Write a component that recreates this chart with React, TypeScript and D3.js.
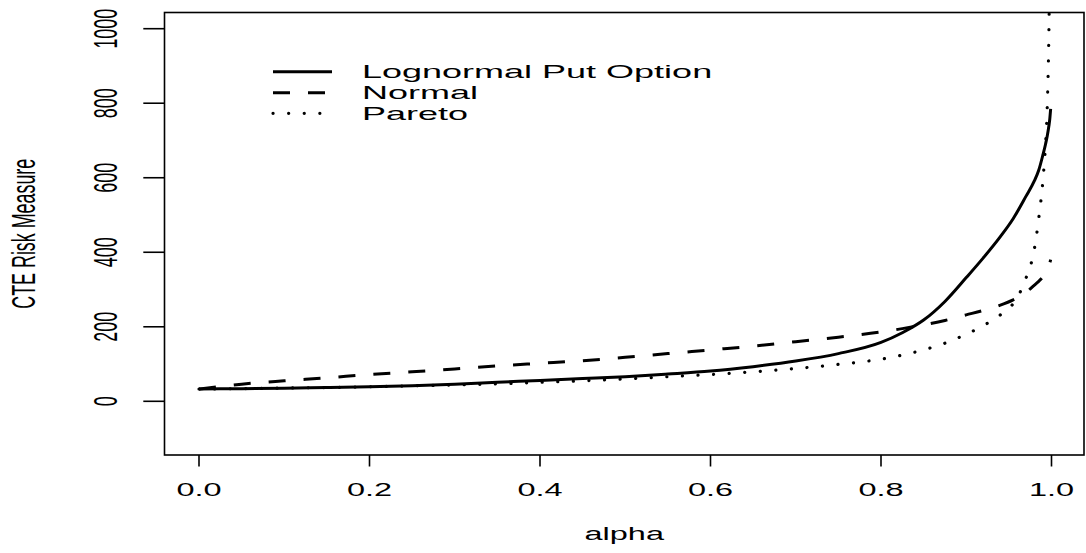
import React from "react";
import * as d3 from "d3";

// values
const alpha = [
  0, 0.05, 0.1, 0.15, 0.2, 0.25, 0.3, 0.35, 0.4, 0.45, 0.5, 0.55, 0.6, 0.65,
  0.7, 0.75, 0.8, 0.825, 0.85, 0.875, 0.9, 0.92, 0.94, 0.955, 0.97, 0.98,
  0.985, 0.99, 0.993, 0.995, 0.997, 0.998, 0.999,
];
const lognormalPut = [
  33, 34, 35, 37, 39, 42, 46, 51, 56, 61, 66, 73, 81, 93, 108, 128, 158, 184,
  218, 268, 332, 385, 442, 490, 550, 592, 620, 662, 690, 712, 740, 758, 785,
];
const normal = [
  33, 46, 55, 63, 72, 79, 87, 95, 102, 109, 118, 128, 138, 148, 160, 172, 186,
  195, 205, 217, 232, 244, 258, 272, 292, 312, 322, 334, 345, 355, 365, 372,
  380,
];
const pareto = [
  33, 34, 35.5, 37, 39, 41.5, 44, 47, 51, 55, 60, 66, 72, 79, 88, 99, 113, 124,
  138, 156, 180, 203, 232, 262, 330, 410, 490, 595, 690, 790, 1000, 1200, 1400,
];

const xTicks = [0, 0.2, 0.4, 0.6, 0.8, 1.0];
const yTicks = [0, 200, 400, 600, 800, 1000];
const legendLabels = ["Lognormal Put Option", "Normal", "Pareto"];
const seriesList = [lognormalPut, normal, pareto];

const W = 1086;
const H = 553;
const box = { left: 164.5, right: 1084, top: 12.5, bottom: 455 };
const SY = 0.55; // the figure is squeezed vertically
const FONT = "'Liberation Sans', Arial, Helvetica, sans-serif";

const dashes = [null, "17 18", "0.1 15.5"];
const caps = ["butt", "butt", "round"];

export default function App() {
  const x = d3.scaleLinear().domain([0, 1]).range([199, 1051.5]);
  const y = d3.scaleLinear().domain([0, 1000]).range([401.3, 28.7]);

  const line = d3
    .line<number>()
    .x((_, i) => x(alpha[i]))
    .y((d) => y(d))
    .curve(d3.curveMonotoneX);

  const legendRows = [71.7, 92.7, 113.3];

  return (
    <div style={{ position: "absolute", left: 0, top: 0 }}>
      <svg width={W} height={H} style={{ display: "block", background: "#fff" }}>
        <defs>
          <clipPath id="plotClip">
            <rect
              x={box.left}
              y={box.top}
              width={box.right - box.left}
              height={box.bottom - box.top}
            />
          </clipPath>
        </defs>

        {/* curves */}
        <g clipPath="url(#plotClip)">
          {seriesList.map((s, i) => (
            <path
              key={i}
              d={line(s) || ""}
              fill="none"
              stroke="#000"
              strokeWidth={i === 2 ? 3.2 : 3}
              strokeDasharray={dashes[i] || undefined}
              strokeLinecap={caps[i] as any}
            />
          ))}
        </g>

        {/* plot box */}
        <rect
          x={box.left}
          y={box.top}
          width={box.right - box.left}
          height={box.bottom - box.top}
          fill="none"
          stroke="#000"
          strokeWidth={1.6}
        />

        {/* x axis */}
        {xTicks.map((t) => (
          <g key={t}>
            <line x1={x(t)} x2={x(t)} y1={box.bottom} y2={466.5} stroke="#000" strokeWidth={1.6} />
            <text
              transform={`translate(${x(t)},496) scale(1,${SY})`}
              textAnchor="middle"
              fontFamily={FONT}
              fontSize={32.5}
            >
              {t.toFixed(1)}
            </text>
          </g>
        ))}
        <text
          transform={`translate(${(box.left + box.right) / 2},540) scale(1,${SY})`}
          textAnchor="middle"
          fontFamily={FONT}
          fontSize={32.5}
        >
          alpha
        </text>

        {/* y axis */}
        {yTicks.map((t) => (
          <g key={t}>
            <line x1={143.3} x2={box.left} y1={y(t)} y2={y(t)} stroke="#000" strokeWidth={1.6} />
            <text
              transform={`translate(117,${y(t)}) scale(1,${SY}) rotate(-90)`}
              textAnchor="middle"
              fontFamily={FONT}
              fontSize={32.5}
            >
              {t}
            </text>
          </g>
        ))}
        <text
          transform={`translate(35,${(box.top + box.bottom) / 2}) scale(1,${SY}) rotate(-90)`}
          textAnchor="middle"
          fontFamily={FONT}
          fontSize={32.5}
        >
          CTE Risk Measure
        </text>

        {/* legend */}
        {legendLabels.map((lab, i) => (
          <g key={lab}>
            <line
              x1={273}
              x2={332}
              y1={legendRows[i]}
              y2={legendRows[i]}
              stroke="#000"
              strokeWidth={i === 2 ? 3.2 : 3}
              strokeDasharray={dashes[i] || undefined}
              strokeLinecap={caps[i] as any}
            />
            <text
              transform={`translate(362,${legendRows[i] + 6.7}) scale(1,0.52)`}
              fontFamily={FONT}
              fontSize={36}
            >
              {lab}
            </text>
          </g>
        ))}
      </svg>
    </div>
  );
}
